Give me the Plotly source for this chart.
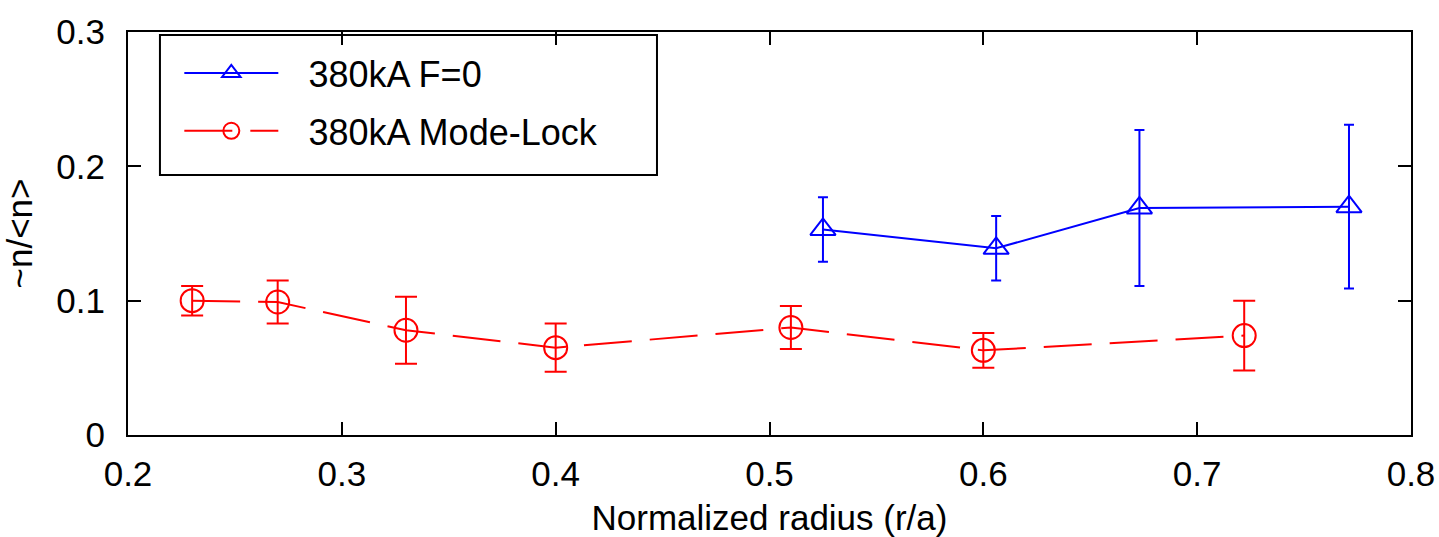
import plotly.graph_objects as go

# Normalized radius positions and fluctuation levels for each discharge type
f0_radius = [0.525, 0.606, 0.673, 0.771]
f0_level = [0.153, 0.139, 0.169, 0.170]
f0_err = [0.024, 0.024, 0.058, 0.061]

ml_radius = [0.23, 0.27, 0.33, 0.40, 0.51, 0.60, 0.722]
ml_level = [0.100, 0.099, 0.078, 0.065, 0.080, 0.063, 0.074]
ml_err = [0.011, 0.016, 0.025, 0.018, 0.016, 0.013, 0.026]

x_ticks = [0.2, 0.3, 0.4, 0.5, 0.6, 0.7, 0.8]
y_ticks = [0, 0.1, 0.2, 0.3]

FONT = "Liberation Sans, Arial, Helvetica, sans-serif"
BLUE = "#0000ff"
RED = "#ff0000"
PAD = "\u2002\u2009"  # gap between legend sample and label

fig = go.Figure()

fig.add_trace(go.Scatter(
    x=f0_radius, y=f0_level, name=PAD + "380kA F=0", mode="lines+markers",
    line=dict(color=BLUE, width=2),
    marker=dict(symbol="triangle-up-open", size=22, color=BLUE, line=dict(color=BLUE, width=2)),
    error_y=dict(type="data", array=f0_err, visible=True, color=BLUE, thickness=2, width=5),
    legendgroup="a",
))

fig.add_trace(go.Scatter(
    x=ml_radius, y=ml_level, name=PAD + "380kA Mode-Lock", mode="lines+markers",
    line=dict(color=RED, width=2, dash="48px,18px"),
    marker=dict(symbol="circle-open", size=23, color=RED, line=dict(color=RED, width=2)),
    error_y=dict(type="data", array=ml_err, visible=True, color=RED, thickness=2, width=11),
    legendgroup="b",
))

axis_common = dict(
    showline=True, linecolor="black", linewidth=2, mirror="ticks",
    ticks="inside", ticklen=13, tickwidth=2, tickcolor="black",
    showgrid=False, zeroline=False, automargin=False,
    tickfont=dict(family=FONT, size=35, color="black"),
)

fig.update_xaxes(
    range=[0.2, 0.8], tickvals=x_ticks, ticktext=[f"{v:g}" for v in x_ticks],
    ticklabelstandoff=7,
    title=dict(text="Normalized radius (r/a)", font=dict(family=FONT, size=35, color="black"), standoff=14),
    **axis_common,
)
fig.update_yaxes(
    range=[0, 0.3], tickvals=y_ticks, ticktext=[f"{v:g}" for v in y_ticks],
    ticklabelstandoff=14,
    title=dict(text="~n/<n>", font=dict(family=FONT, size=35, color="black"), standoff=20),
    **axis_common,
)

# legend frame
fig.add_shape(type="rect", xref="paper", yref="paper",
              x0=0.0249, x1=0.4123, y0=0.645, y1=0.9926,
              line=dict(color="black", width=2), fillcolor="rgba(0,0,0,0)", layer="above")

fig.update_layout(
    width=1439, height=537,
    margin=dict(l=128, r=28, t=32, b=102),
    paper_bgcolor="white", plot_bgcolor="white",
    font=dict(family=FONT, size=35, color="black"),
    showlegend=True,
    legend=dict(
        x=0.04, y=0.9725, xanchor="left", yanchor="top",
        bgcolor="rgba(0,0,0,0)", borderwidth=0,
        itemwidth=94, tracegroupgap=8,
        font=dict(family=FONT, size=36, color="black"),
    ),
)

fig.write_html("out.html")
